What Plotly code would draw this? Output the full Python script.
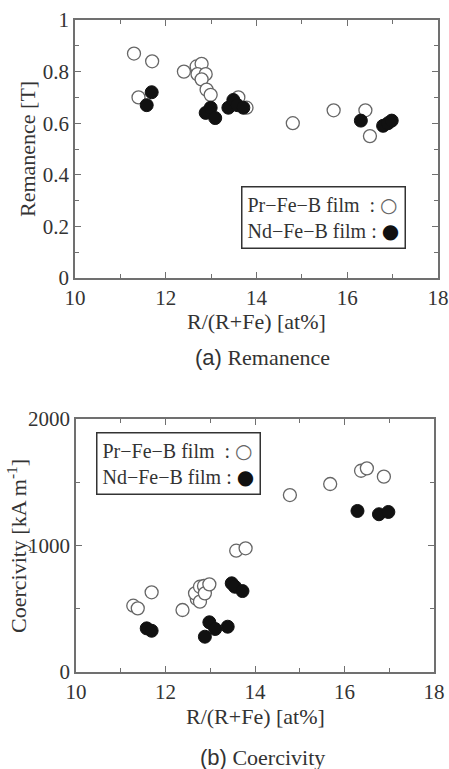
import plotly.graph_objects as go

# (a) Remanence
pr_rem_x = [11.3, 11.7, 11.4, 12.4, 12.68, 12.79, 12.70, 12.88, 12.79, 12.90, 12.99, 13.60, 13.78, 14.8, 15.7, 16.4, 16.5]
pr_rem_y = [0.87, 0.84, 0.70, 0.80, 0.82, 0.83, 0.79, 0.79, 0.77, 0.73, 0.71, 0.70, 0.66, 0.60, 0.65, 0.65, 0.55]
nd_rem_x = [11.58, 11.69, 12.88, 12.99, 13.09, 13.38, 13.49, 13.58, 13.71, 16.30, 16.79, 16.90, 16.98]
nd_rem_y = [0.67, 0.72, 0.64, 0.66, 0.62, 0.66, 0.69, 0.67, 0.66, 0.61, 0.59, 0.60, 0.61]

# (b) Coercivity
pr_hc_x = [11.28, 11.38, 11.69, 12.38, 12.70, 12.66, 12.77, 12.86, 12.77, 12.88, 12.98, 13.58, 13.79, 14.78, 15.68, 16.37, 16.50, 16.88]
pr_hc_y = [524, 503, 630, 490, 577, 622, 674, 680, 556, 622, 693, 959, 978, 1399, 1486, 1591, 1610, 1544]
nd_hc_x = [11.58, 11.69, 12.88, 12.98, 13.11, 13.39, 13.48, 13.55, 13.72, 16.29, 16.77, 16.98]
nd_hc_y = [345, 326, 279, 393, 340, 358, 701, 674, 640, 1273, 1247, 1265]

SERIF = "Liberation Serif, Times New Roman, serif"
TXT = "#333333"
LINE = "#707070"

open_marker = dict(symbol="circle", size=13, color="white", line=dict(color="#666666", width=1.3))
fill_marker = dict(symbol="circle", size=13, color="#111111", line=dict(color="#111111", width=1))

fig = go.Figure()
fig.add_trace(go.Scatter(x=pr_rem_x, y=pr_rem_y, mode="markers", marker=open_marker, xaxis="x", yaxis="y", showlegend=False))
fig.add_trace(go.Scatter(x=nd_rem_x, y=nd_rem_y, mode="markers", marker=fill_marker, xaxis="x", yaxis="y", showlegend=False))
fig.add_trace(go.Scatter(x=pr_hc_x, y=pr_hc_y, mode="markers", marker=open_marker, xaxis="x2", yaxis="y2", showlegend=False))
fig.add_trace(go.Scatter(x=nd_hc_x, y=nd_hc_y, mode="markers", marker=fill_marker, xaxis="x2", yaxis="y2", showlegend=False))

W, H = 449, 769
def px(x):
    return x / W
def py(y):
    return 1 - y / H

TICKFONT = dict(family=SERIF, size=21, color=TXT)
axcommon = dict(showline=True, linecolor=LINE, linewidth=1.5, mirror="allticks",
                ticks="inside", ticklen=6, tickcolor=LINE, tickwidth=1.2,
                showgrid=False, zeroline=False, automargin=False,
                tickfont=TICKFONT, ticklabelstandoff=0)

fig.update_layout(
    width=W, height=H, margin=dict(l=0, r=0, t=0, b=0),
    font=dict(family=SERIF, size=21, color=TXT),
    paper_bgcolor="white", plot_bgcolor="white",
    xaxis=dict(domain=[px(75), px(438)], anchor="y", range=[10, 18], dtick=2, tick0=10,
               minor=dict(dtick=1, ticks="inside", ticklen=4, tickcolor=LINE), **axcommon),
    yaxis=dict(domain=[py(278), py(20)], anchor="x", range=[0, 1], dtick=0.2, tick0=0,
               tickformat="~g",
               minor=dict(dtick=0.1, ticks="inside", ticklen=4, tickcolor=LINE), **axcommon),
    xaxis2=dict(domain=[px(76), px(434)], anchor="y2", range=[10, 18], dtick=2, tick0=10,
                minor=dict(dtick=1, ticks="inside", ticklen=4, tickcolor=LINE), **axcommon),
    yaxis2=dict(domain=[py(672), py(419)], anchor="x2", range=[0, 2000], dtick=1000, tick0=0,
                minor=dict(dtick=500, ticks="inside", ticklen=4, tickcolor=LINE), **axcommon),
)

ann = []
def text(x, y, t, size=22, angle=0, family=SERIF):
    ann.append(dict(x=px(x), y=py(y), xref="paper", yref="paper", text=t, showarrow=False,
                    textangle=angle, font=dict(family=family, size=size, color=TXT),
                    xanchor="center", yanchor="middle"))

text(256, 321, "R/(R+Fe) [at%]")
text(27, 149, "Remanence [T]", angle=-90)
text(262, 357, '<span style="font-family:Liberation Sans">(a)</span> Remanence', size=22)
text(255, 716, "R/(R+Fe) [at%]")
text(17, 546, "Coercivity [kA m<sup>-1</sup>]", angle=-90)
text(262, 757, '<span style="font-family:Liberation Sans">(b)</span> Coercivity', size=22)

legend_txt = ('Pr\u2212Fe\u2212B film\u00a0 : <span style="font-family:DejaVu Sans;font-size:20px;color:#666666">\u25cb</span><br>'
              'Nd\u2212Fe\u2212B film : <span style="font-family:DejaVu Sans;font-size:20px;color:#111111">\u25cf</span>')
for cx, cy in [(323, 217.5), (178.5, 463)]:
    ann.append(dict(x=px(cx), y=py(cy), xref="paper", yref="paper", text=legend_txt, showarrow=False,
                    align="left", font=dict(family=SERIF, size=20, color=TXT),
                    bordercolor="#333333", borderwidth=1.5, borderpad=5, bgcolor="white",
                    xanchor="center", yanchor="middle"))
fig.update_layout(annotations=ann)

fig.write_html("out.html")
